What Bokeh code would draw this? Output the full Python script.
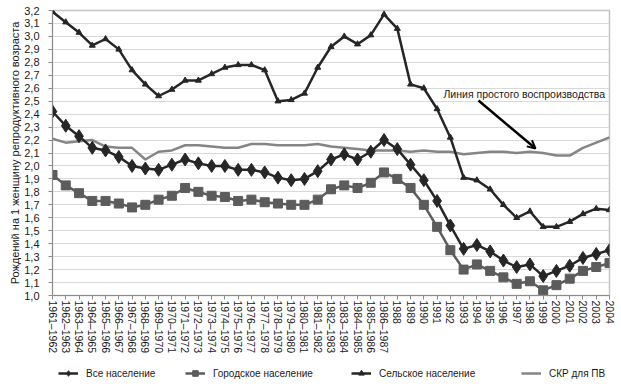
from bokeh.plotting import figure
from bokeh.layouts import column
from bokeh.models import (Range1d, Legend, LegendItem, Arrow, OpenHead, Title,
                          Label, FixedTicker, CustomJSTickFormatter)
from bokeh.embed import file_html
from bokeh.resources import INLINE

periods = ["1961–1962", "1962–1963", "1963–1964", "1964–1965", "1965–1966", "1966–1967",
           "1967–1968", "1968–1969", "1969–1970", "1970–1971", "1971–1972", "1972–1973",
           "1973–1974", "1974–1975", "1975–1976", "1976–1977", "1977–1978", "1978–1979",
           "1979–1980", "1980–1981", "1981–1982", "1982–1983", "1983–1984", "1984–1985",
           "1985–1986", "1986–1987", "1988", "1989", "1990", "1991", "1992", "1993", "1994",
           "1995", "1996", "1997", "1998", "1999", "2000", "2001", "2002", "2003", "2004"]

all_pop = [2.42, 2.31, 2.23, 2.14, 2.12, 2.07, 2.00, 1.98, 1.97, 2.01, 2.05, 2.02, 2.00, 2.00,
           1.97, 1.97, 1.95, 1.91, 1.89, 1.90, 1.96, 2.05, 2.09, 2.05, 2.11, 2.20, 2.13, 2.01,
           1.89, 1.73, 1.54, 1.36, 1.39, 1.34, 1.27, 1.22, 1.24, 1.15, 1.19, 1.23, 1.29, 1.32, 1.35]
urban = [1.93, 1.85, 1.79, 1.73, 1.73, 1.71, 1.68, 1.70, 1.74, 1.77, 1.83, 1.80, 1.77, 1.76,
         1.73, 1.74, 1.72, 1.71, 1.70, 1.70, 1.74, 1.82, 1.85, 1.83, 1.87, 1.95, 1.90, 1.83,
         1.70, 1.53, 1.35, 1.20, 1.24, 1.19, 1.14, 1.09, 1.11, 1.04, 1.08, 1.13, 1.19, 1.22, 1.25]
rural = [3.19, 3.11, 3.03, 2.93, 2.98, 2.90, 2.74, 2.63, 2.54, 2.59, 2.66, 2.66, 2.71, 2.76,
         2.78, 2.78, 2.74, 2.50, 2.51, 2.56, 2.76, 2.92, 3.00, 2.94, 3.01, 3.17, 3.06, 2.63,
         2.60, 2.44, 2.22, 1.91, 1.89, 1.82, 1.70, 1.60, 1.65, 1.53, 1.53, 1.57, 1.63, 1.67, 1.66]
replacement = [2.21, 2.18, 2.19, 2.20, 2.15, 2.14, 2.14, 2.05, 2.11, 2.12, 2.16, 2.16, 2.15, 2.14,
               2.14, 2.17, 2.17, 2.16, 2.16, 2.16, 2.17, 2.15, 2.14, 2.13, 2.12, 2.12, 2.12, 2.11,
               2.12, 2.11, 2.11, 2.09, 2.10, 2.11, 2.11, 2.10, 2.11, 2.10, 2.08, 2.08, 2.14, 2.18, 2.22]

y_ticks = [1.0, 1.1, 1.2, 1.3, 1.4, 1.5, 1.6, 1.7, 1.8, 1.9, 2.0, 2.1, 2.2, 2.3, 2.4, 2.5,
           2.6, 2.7, 2.8, 2.9, 3.0, 3.1, 3.2]

series_names = ["Все население", "Городское население", "Сельское население", "СКР для ПВ"]
y_title = "Рождений на 1 женщину репродуктивного возраста"
note_text = "Линия простого воспроизводства"

FONT = "Liberation Sans"
C_ALL = "#262626"
C_URB = "#5c5c5c"
C_RUR = "#262626"
C_REP = "#858585"

idx = list(range(len(periods)))

p = figure(width=620, height=356, output_backend="svg", toolbar_location=None,
           x_range=Range1d(0, len(periods) - 1),
           y_range=Range1d(1.0, 3.2),
           min_border_left=52, min_border_right=11, min_border_top=10, min_border_bottom=60)

p.background_fill_color = "white"
p.border_fill_color = "white"
p.outline_line_color = "#c4c4c4"
p.outline_line_width = 1.5

p.xgrid.grid_line_color = None
p.ygrid.grid_line_color = "#d9d9d9"
p.ygrid.grid_line_width = 1
p.yaxis.ticker = FixedTicker(ticks=y_ticks)
p.yaxis.formatter = CustomJSTickFormatter(code="return tick.toFixed(1).replace('.', ',');")
p.xaxis.ticker = FixedTicker(ticks=idx)
p.xaxis.major_label_overrides = {i: lab for i, lab in zip(idx, periods)}

for ax in (p.xaxis[0], p.yaxis[0]):
    ax.axis_line_color = "#8c8c8c"
    ax.axis_line_width = 1
    ax.major_tick_line_color = "#8c8c8c"
    ax.major_tick_in = 0
    ax.major_tick_out = 4
    ax.minor_tick_line_color = None
    ax.major_label_text_font = FONT
    ax.major_label_text_color = "#1a1a1a"

p.yaxis.major_label_text_font_size = "11px"
p.yaxis.major_label_standoff = 9
p.xaxis.major_label_text_font_size = "10.5px"
p.xaxis.major_label_orientation = "vertical"
p.xaxis.major_label_standoff = 1

p.add_layout(Title(text=y_title, align="center", offset=15, text_font=FONT,
                   text_font_size="11px", text_font_style="normal", text_color="#1a1a1a",
                   standoff=2), "left")

r_repl = p.line(idx, replacement, line_color=C_REP, line_width=2.5)
r_urb_l = p.line(idx, urban, line_color=C_URB, line_width=2.5)
r_urb_m = p.scatter(idx, urban, marker="square", size=9, fill_color=C_URB, line_color=C_URB)
r_all_l = p.line(idx, all_pop, line_color=C_ALL, line_width=2.5)
r_all_m = p.scatter(idx, all_pop, marker="diamond", size=13, fill_color=C_ALL, line_color=C_ALL)
r_rur_l = p.line(idx, rural, line_color=C_RUR, line_width=2.5)
r_rur_m = p.scatter(idx, rural, marker="triangle", size=6, fill_color=C_RUR, line_color=C_RUR)

p.add_layout(Label(x=29.48, y=2.552, text=note_text, text_font=FONT, text_font_size="10.5px",
                   text_color="#1a1a1a", text_baseline="middle", text_align="left"))
p.add_layout(Arrow(x_start=32.12, y_start=2.505, x_end=36.42, y_end=2.135,
                   line_width=2.5, line_color="black",
                   end=OpenHead(size=8, line_width=2, line_color="black")))

# legend strip below the chart; its renderers hold the same series but sit outside its view
lg = figure(width=620, height=26, output_backend="svg", toolbar_location=None,
            x_range=Range1d(0, 1), y_range=Range1d(10, 11),
            x_axis_location=None, y_axis_location=None,
            min_border_left=0, min_border_right=0, min_border_top=0, min_border_bottom=0)
lg.outline_line_color = None
lg.xgrid.grid_line_color = None
lg.ygrid.grid_line_color = None
lg.background_fill_color = "white"
lg.border_fill_color = "white"

d_all_l = lg.line(idx, all_pop, line_color=C_ALL, line_width=2.5)
d_all_m = lg.scatter(idx, all_pop, marker="diamond", size=13, fill_color=C_ALL, line_color=C_ALL)
d_urb_l = lg.line(idx, urban, line_color=C_URB, line_width=2.5)
d_urb_m = lg.scatter(idx, urban, marker="square", size=9, fill_color=C_URB, line_color=C_URB)
d_rur_l = lg.line(idx, rural, line_color=C_RUR, line_width=2.5)
d_rur_m = lg.scatter(idx, rural, marker="triangle", size=6, fill_color=C_RUR, line_color=C_RUR)
d_rep = lg.line(idx, replacement, line_color=C_REP, line_width=2.5)

legend_groups = [[d_all_l, d_all_m], [d_urb_l, d_urb_m], [d_rur_l, d_rur_m], [d_rep]]
legend_x = [6, 133, 299, 469]   # offsets from the chart's left frame edge
for name, rends, lx in zip(series_names, legend_groups, legend_x):
    leg = Legend(items=[LegendItem(label=name, renderers=rends)],
                 location=(lx, 2), orientation="horizontal", padding=0, margin=0, spacing=0,
                 label_text_font=FONT, label_text_font_size="10px", label_text_color="#1a1a1a",
                 glyph_width=20, glyph_height=14, label_standoff=8, label_height=14,
                 border_line_color=None, background_fill_alpha=0)
    lg.add_layout(leg, "center")

open("out.html", "w").write(file_html(column(p, lg, spacing=0), INLINE))
